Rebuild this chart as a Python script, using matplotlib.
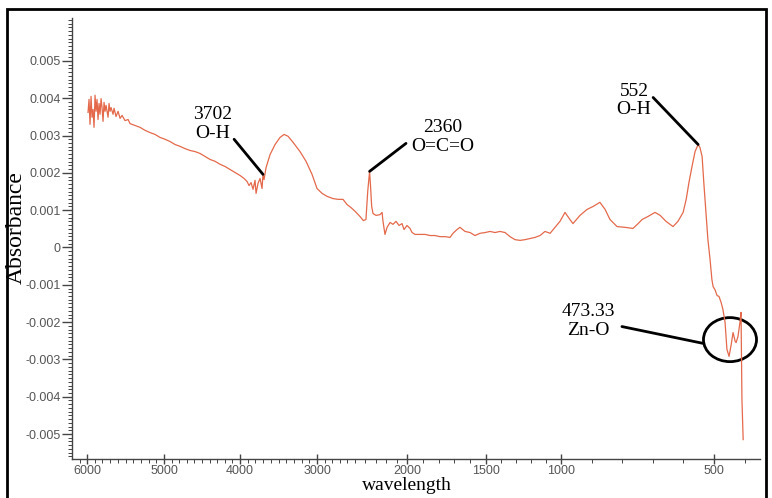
import numpy as np
import matplotlib
matplotlib.use('Agg')
import matplotlib.pyplot as plt
from matplotlib.patches import Ellipse, Rectangle
from matplotlib.ticker import FixedLocator, MultipleLocator, FuncFormatter

plt.rcParams['axes.unicode_minus'] = False

# FTIR spectrum: wavenumber (cm-1) and absorbance
wavenumber = [5987, 5974, 5961, 5948, 5935, 5922, 5909, 5896, 5883, 5870,
              5857, 5844, 5831, 5818, 5805, 5792, 5779, 5766, 5753, 5727,
              5714, 5701, 5688, 5662, 5649, 5623, 5597, 5571, 5545, 5506,
              5467, 5441, 5376, 5312, 5247, 5182, 5117, 5052, 4987, 4921,
              4855, 4789, 4724, 4658, 4592, 4526, 4461, 4395, 4329, 4263,
              4197, 4132, 4066, 4000, 3948, 3909, 3883, 3857, 3831, 3805,
              3792, 3766, 3740, 3714, 3702, 3688, 3662, 3610, 3545, 3480,
              3428, 3376, 3312, 3221, 3143, 3065, 3000, 2934, 2868, 2789,
              2724, 2658, 2605, 2553, 2500, 2452, 2420, 2395, 2378, 2360,
              2350, 2340, 2327, 2298, 2260, 2240, 2231, 2212, 2192, 2163,
              2135, 2106, 2077, 2048, 2029, 2000, 1981, 1968, 1949, 1918,
              1886, 1854, 1823, 1791, 1759, 1728, 1709, 1684, 1665, 1633,
              1601, 1570, 1538, 1506, 1473, 1440, 1407, 1373, 1340, 1307,
              1273, 1240, 1207, 1173, 1140, 1107, 1073, 1040, 1007, 987,
              971, 961, 938, 915, 895, 873, 856, 840, 817, 791,
              765, 748, 735, 716, 693, 676, 657, 634, 618, 601,
              591, 582, 572, 562, 552, 546, 539, 533, 526, 520,
              513, 507, 503, 497, 490, 484, 477, 471, 464, 458,
              451, 444, 438, 431, 428, 422, 415, 412, 409, 405]
absorbance = [0.00362, 0.00397, 0.00330, 0.00405, 0.00349, 0.00370, 0.00322, 0.00408, 0.00365, 0.00397,
              0.00343, 0.00386, 0.00357, 0.00399, 0.00375, 0.00338, 0.00389, 0.00365, 0.00381, 0.00349,
              0.00386, 0.00365, 0.00375, 0.00357, 0.00373, 0.00351, 0.00365, 0.00346, 0.00354, 0.00340,
              0.00343, 0.00332, 0.00327, 0.00322, 0.00314, 0.00308, 0.00303, 0.00295, 0.00290, 0.00284,
              0.00276, 0.00271, 0.00265, 0.00260, 0.00257, 0.00252, 0.00244, 0.00236, 0.00231, 0.00223,
              0.00217, 0.00209, 0.00201, 0.00193, 0.00185, 0.00177, 0.00166, 0.00174, 0.00156, 0.00180,
              0.00145, 0.00172, 0.00185, 0.00158, 0.00196, 0.00182, 0.00214, 0.00249, 0.00276, 0.00295,
              0.00303, 0.00298, 0.00282, 0.00257, 0.00231, 0.00196, 0.00158, 0.00145, 0.00137, 0.00131,
              0.00129, 0.00129, 0.00115, 0.00107, 0.00097, 0.00083, 0.00072, 0.00075, 0.00150, 0.00204,
              0.00160, 0.00110, 0.00091, 0.00086, 0.00088, 0.00094, 0.00070, 0.00035, 0.00054, 0.00067,
              0.00062, 0.00070, 0.00059, 0.00064, 0.00048, 0.00059, 0.00051, 0.00040, 0.00035, 0.00035,
              0.00035, 0.00032, 0.00032, 0.00029, 0.00029, 0.00027, 0.00038, 0.00048, 0.00054, 0.00043,
              0.00040, 0.00032, 0.00038, 0.00040, 0.00043, 0.00040, 0.00043, 0.00040, 0.00029, 0.00021,
              0.00019, 0.00021, 0.00024, 0.00027, 0.00032, 0.00043, 0.00038, 0.00054, 0.00070, 0.00094,
              0.00075, 0.00064, 0.00086, 0.00102, 0.00110, 0.00121, 0.00102, 0.00075, 0.00056, 0.00054,
              0.00051, 0.00064, 0.00075, 0.00083, 0.00094, 0.00086, 0.00070, 0.00056, 0.00070, 0.00094,
              0.00129, 0.00174, 0.00217, 0.00257, 0.00276, 0.00268, 0.00244, 0.00169, 0.00088, 0.00021,
              -0.00032, -0.00086, -0.00105, -0.00113, -0.00129, -0.00131, -0.00147, -0.00166, -0.00201, -0.00273,
              -0.00292, -0.00260, -0.00228, -0.00252, -0.00255, -0.00239, -0.00198, -0.00174, -0.00408, -0.00515]

# peak labels: text, text centre, line start, peak position
labels = ['3702\nO-H', '2360\nO=C=O', '552\nO-H', '473.33\nZn-O']
label_xy = [(4355, 0.00330), (1772, 0.00296), (761, 0.00394), (912, -0.00197)]
line_from = [(4078, 0.00290), (2010, 0.00279), (699, 0.00402), (801, -0.00212)]
line_to = [(3702, 0.00196), (2360, 0.00204), (552, 0.00276), (536, -0.00257)]

# the spectrometer axis is stretched in steps towards low wavenumber
scale_w = [350, 500, 1000, 1500, 2000, 2500, 3000, 4000, 5000, 6000, 6200]
scale_pos = [0, 46, 199, 274, 353, 405, 443, 520, 596, 673, 688]


def forward(w):
    return np.interp(w, scale_w, scale_pos)


def inverse(p):
    return np.interp(p, scale_pos, scale_w)


fig = plt.figure(figsize=(7.72, 4.98), dpi=100)
ax = fig.add_axes([0.0933, 0.0783, 0.8912, 0.8855])

ax.plot(wavenumber, absorbance, color='#e4694b', lw=0.9)

ax.set_xscale('function', functions=(forward, inverse))
ax.set_xlim(6200, 350)
ax.set_ylim(-0.00567, 0.00615)

ax.xaxis.set_major_locator(FixedLocator([6000, 5000, 4000, 3000, 2000, 1500, 1000, 500]))
ax.xaxis.set_minor_locator(FixedLocator(np.arange(400, 6200, 100)))
ax.xaxis.set_major_formatter(FuncFormatter(lambda v, p: '%d' % round(v)))
ax.yaxis.set_major_locator(FixedLocator(np.arange(-5, 6) * 0.001))
ax.yaxis.set_minor_locator(MultipleLocator(0.0001))
ax.yaxis.set_major_formatter(FuncFormatter(lambda v, p: '%g' % (round(v, 4) + 0.0)))

for s in ['top', 'right']:
    ax.spines[s].set_visible(False)
for s in ['left', 'bottom']:
    ax.spines[s].set_color('#444444')
    ax.spines[s].set_linewidth(1.0)

ax.tick_params(axis='both', which='major', colors='#444444', labelcolor='#555555',
               labelsize=9, width=1.0)
ax.tick_params(axis='x', which='major', direction='inout', length=7, pad=1)
ax.tick_params(axis='y', which='major', direction='out', length=7, pad=1)
ax.tick_params(axis='both', which='minor', direction='out', length=3, width=0.7, colors='#444444')
for t in ax.get_xticklabels() + ax.get_yticklabels():
    t.set_family('Liberation Sans')

ax.set_xlabel('wavelength', family='Liberation Serif', fontsize=14)
ax.set_ylabel('Absorbance', family='Liberation Serif', fontsize=17)
ax.xaxis.set_label_coords(0.487, -0.041)
ax.yaxis.set_label_coords(-0.066, 0.524)

for txt, xy, a, b in zip(labels, label_xy, line_from, line_to):
    ax.text(xy[0], xy[1], txt, family='Liberation Serif', fontsize=14,
            ha='center', va='center', multialignment='center', linespacing=1.15)
    ax.annotate('', xy=b, xytext=a,
                arrowprops=dict(arrowstyle='-', color='black', lw=2, shrinkA=0, shrinkB=0))

ax.add_patch(Ellipse((448, -0.00247), 173, 0.00118, fill=False, ec='black', lw=2))

fig.add_artist(Rectangle((0.009, -0.05), 0.983, 1.032, transform=fig.transFigure,
                         fill=False, ec='black', lw=2))

fig.savefig('out.png', dpi=100)
